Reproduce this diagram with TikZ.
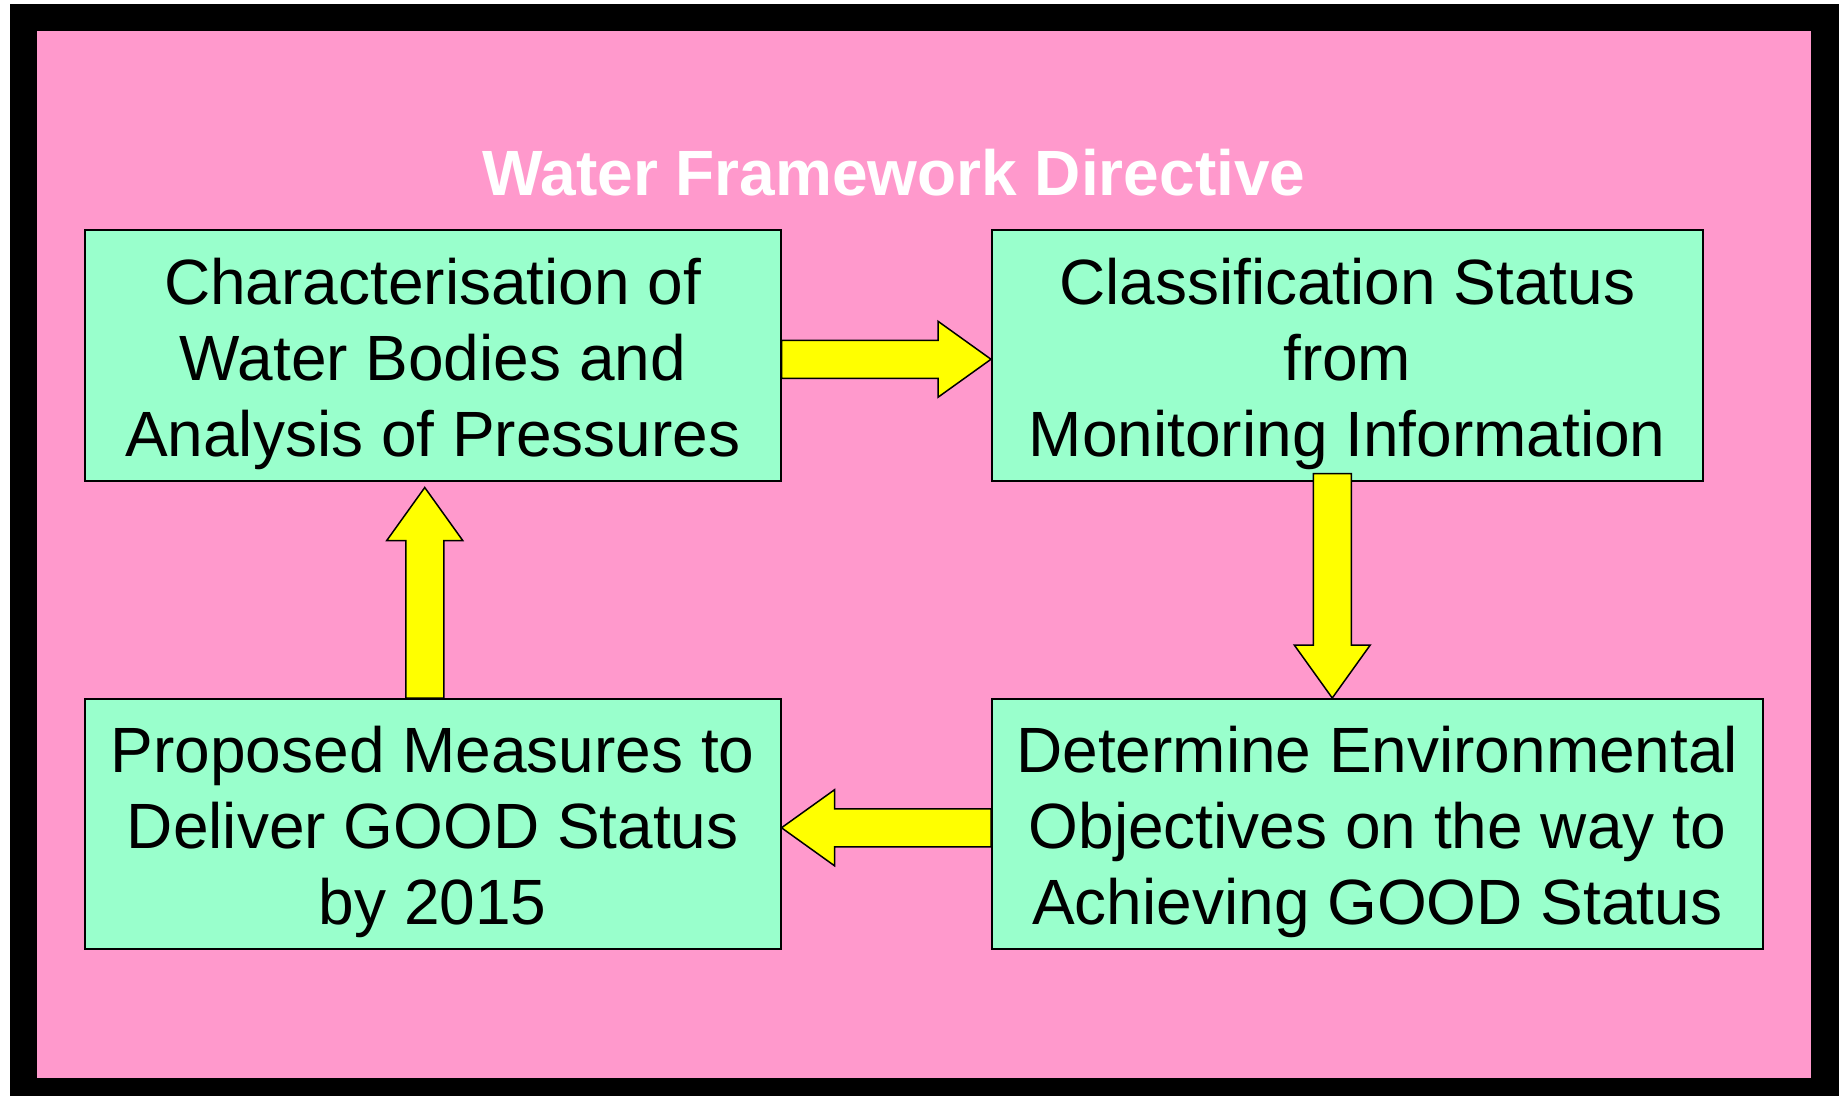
\documentclass[tikz,border=0pt]{standalone}
\usepackage{fontspec}
\setmainfont{Liberation Sans}
\usetikzlibrary{calc}

\definecolor{framepink}{RGB}{255,153,204}
\definecolor{boxgreen}{RGB}{153,255,204}
\definecolor{arrowyellow}{RGB}{255,255,0}

% strut on the first line, pushes the text a bit down
\newcommand{\topstrut}{\rule{0pt}{63pt}}

% fat arrow from #1 to #2 (tip at #2)
\newcommand{\blockarrow}[2]{%
  \coordinate (h) at ($(#2)!53pt!(#1)$);
  \draw[fatarrow] ($(#1)!19pt!90:(#2)$) -- ($(h)!19pt!90:(#2)$) -- ($(h)!38pt!90:(#2)$) -- (#2)
    -- ($(h)!38pt!-90:(#2)$) -- ($(h)!19pt!-90:(#2)$) -- ($(#1)!19pt!-90:(#2)$) -- cycle;
}

\begin{document}
\begin{tikzpicture}
        [
            x=1pt, y=-1pt,
            box/.style={rectangle, draw=black, line width=1.5pt, fill=boxgreen, anchor=north west,
                inner sep=0pt, align=center, font=\fontsize{64}{76}\selectfont},
            fatarrow/.style={draw=black, line width=1.5pt, fill=arrowyellow, line join=miter},
            title/.style={text=white, font=\fontsize{64}{76}\selectfont\bfseries},
        ]
        \useasboundingbox (0,0) rectangle (1839,1096);
        \fill[black] (10,4) rectangle (1839,1096);
        \fill[framepink] (37,31) rectangle (1811,1078);

        \node[title] (heading) at (894,173) {Water Framework Directive};

        \node[box, minimum width=696pt, minimum height=251pt] (charact) at (84,229)
            {\topstrut Characterisation of\\Water Bodies and\\Analysis of Pressures};
        \node[box, minimum width=711pt, minimum height=251pt] (classif) at (991,229)
            {\topstrut Classification Status\\from\\Monitoring Information};
        \node[box, minimum width=771pt, minimum height=250pt] (objectives) at (991,698)
            {\topstrut Determine Environmental\\Objectives on the way to\\Achieving GOOD Status};
        \node[box, minimum width=696pt, minimum height=250pt] (measures) at (84,698)
            {\topstrut Proposed Measures to\\Deliver GOOD Status\\by 2015};

        \coordinate (r1) at ([yshift=-4pt]charact.east);
        \coordinate (r2) at (r1 -| classif.west);
        \coordinate (d1) at ([xshift=-15pt,yshift=8pt]classif.south);
        \coordinate (d2) at (d1 |- objectives.north);
        \coordinate (l1) at ([yshift=-4pt]objectives.west);
        \coordinate (l2) at (l1 -| measures.east);
        \coordinate (u2) at ([xshift=-8pt,yshift=-6pt]charact.south);
        \coordinate (u1) at (u2 |- measures.north);

        \blockarrow{r1}{r2}
        \blockarrow{d1}{d2}
        \blockarrow{l1}{l2}
        \blockarrow{u1}{u2}
      \end{tikzpicture}
\end{document}
